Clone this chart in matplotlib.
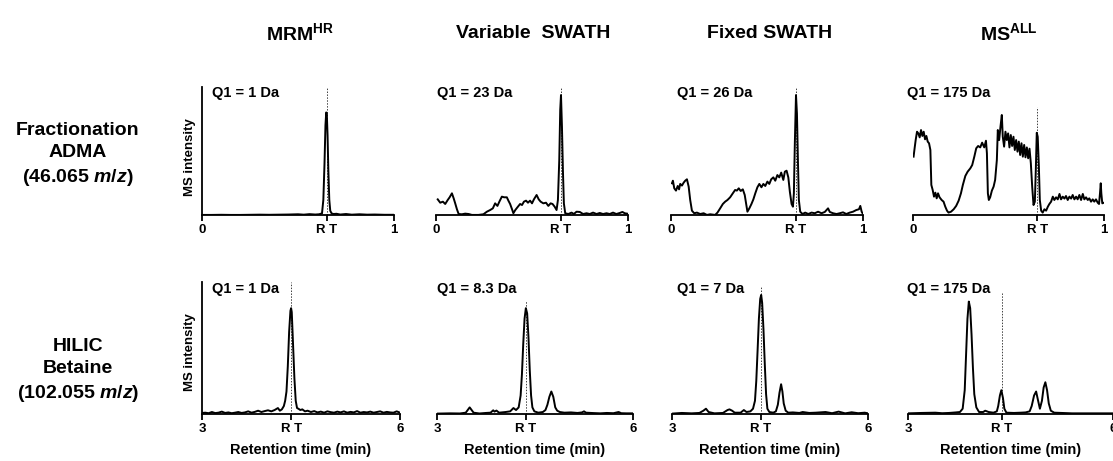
import matplotlib
matplotlib.use("Agg")
import matplotlib.pyplot as plt
import numpy as np

plt.rcParams['font.family'] = ['Liberation Sans', 'DejaVu Sans']
plt.rcParams['font.weight'] = 'bold'
plt.rcParams['mathtext.fontset'] = 'custom'
plt.rcParams['mathtext.rm'] = 'Liberation Sans:bold'
plt.rcParams['mathtext.it'] = 'Liberation Sans:italic:bold'
plt.rcParams['mathtext.bf'] = 'Liberation Sans:bold'

# column / row headers
methods = ["MRM$^{\\rm HR}$", "Variable  SWATH", "Fixed SWATH", "MS$^{\\rm ALL}$"]
samples = ["Fractionation\nADMA\n(46.065 $m/z$)", "HILIC\nBetaine\n(102.055 $m/z$)"]
q1_row1 = ["Q1 = 1 Da", "Q1 = 23 Da", "Q1 = 26 Da", "Q1 = 175 Da"]
q1_row2 = ["Q1 = 1 Da", "Q1 = 8.3 Da", "Q1 = 7 Da", "Q1 = 175 Da"]
rt_row1 = [0.65, 0.65, 0.65, 0.65]
rt_row2 = [4.35, 4.36, 4.36, 4.37]

# ---- ADMA traces (normalised time 0..1, intensity 0..100) ----
adma_mrm_x = [0, 0.05, 0.1, 0.15, 0.2, 0.25, 0.3, 0.35, 0.4, 0.45, 0.5, 0.53, 0.56, 0.59, 0.61,
              0.625, 0.632, 0.638, 0.643, 0.647, 0.650, 0.654, 0.658, 0.663, 0.668, 0.675, 0.685,
              0.70, 0.72, 0.75, 0.78, 0.82, 0.86, 0.9, 0.95, 1.0]
adma_mrm_y = [0.3, 0.3, 0.4, 0.3, 0.3, 0.4, 0.5, 0.4, 0.5, 0.6, 0.8, 0.5, 0.9, 0.6, 0.8,
              1.5, 12, 40, 70, 80, 79, 62, 35, 12, 3.5, 1.5, 1.0,
              1.2, 0.6, 1.0, 0.5, 0.8, 0.5, 0.6, 0.4, 0.4]

adma_var_x = [0.009, 0.022, 0.036, 0.048, 0.061, 0.071, 0.083, 0.092, 0.100, 0.109, 0.118, 0.135,
              0.152, 0.170, 0.187, 0.221, 0.247, 0.265, 0.282, 0.296, 0.308, 0.320, 0.330, 0.343,
              0.355, 0.369, 0.377, 0.386, 0.396, 0.403, 0.413, 0.424, 0.438, 0.448, 0.458, 0.469,
              0.479, 0.490, 0.500, 0.510, 0.524, 0.535, 0.545, 0.559, 0.573, 0.585, 0.597, 0.607,
              0.618, 0.628, 0.635, 0.642, 0.647, 0.651, 0.656, 0.661, 0.666, 0.673, 0.689, 0.706,
              0.718, 0.732, 0.749, 0.766, 0.784, 0.801, 0.818, 0.836, 0.853, 0.870, 0.888, 0.905,
              0.922, 0.939, 0.957, 0.971, 0.983, 0.995]
adma_var_y = [12.4, 9.8, 10.6, 8.8, 11.9, 14.0, 17.1, 13.2, 9.3, 4.7, 1.0, 0.8,
              1.3, 1.0, 0.3, 0.3, 0.8, 2.8, 4.1, 5.4, 9.3, 7.3, 10.6, 14.5,
              14.0, 14.0, 11.4, 8.8, 4.7, 1.6, 4.1, 6.2, 8.8, 8.0, 10.6, 11.4,
              9.8, 11.4, 9.3, 12.4, 15.8, 12.4, 10.6, 9.3, 9.8, 7.3, 9.3, 8.8,
              6.7, 4.1, 11.9, 43, 82, 93.5, 69, 35, 9.3, 1.6, 1.0, 2.1,
              1.0, 2.8, 2.6, 1.0, 1.6, 1.0, 2.1, 1.0, 1.8, 1.0, 1.6, 1.0,
              2.1, 1.0, 1.8, 2.6, 1.6, 1.3]

adma_fix_x = [0.005, 0.010, 0.017, 0.026, 0.035, 0.042, 0.048, 0.057, 0.066, 0.074, 0.083, 0.092,
              0.100, 0.109, 0.121, 0.135, 0.152, 0.170, 0.187, 0.204, 0.230, 0.242, 0.256, 0.270,
              0.282, 0.294, 0.308, 0.322, 0.334, 0.343, 0.353, 0.363, 0.374, 0.384, 0.391, 0.398,
              0.408, 0.419, 0.429, 0.439, 0.450, 0.460, 0.471, 0.481, 0.491, 0.502, 0.512, 0.522,
              0.533, 0.543, 0.554, 0.564, 0.574, 0.585, 0.593, 0.602, 0.611, 0.619, 0.628, 0.635,
              0.640, 0.645, 0.651, 0.656, 0.661, 0.666, 0.673, 0.685, 0.699, 0.715, 0.732, 0.749,
              0.766, 0.784, 0.801, 0.818, 0.827, 0.844, 0.862, 0.879, 0.896, 0.913, 0.931, 0.948,
              0.965, 0.979, 0.986, 0.993, 1.0]
adma_fix_y = [24.9, 26.9, 21.0, 19.2, 22.8, 20.2, 24.4, 23.1, 25.4, 26.9, 28.0, 22.3,
              11.9, 3.6, 1.6, 2.1, 1.0, 1.6, 0.3, 0.8, 0.3, 2.1, 5.4, 8.8,
              10.6, 11.9, 14.0, 17.1, 19.7, 19.2, 21.0, 18.9, 20.2, 15.8, 9.3, 2.8,
              5.4, 8.8, 12.4, 17.1, 21.8, 24.4, 21.8, 24.4, 22.8, 26.2, 24.4, 28.0,
              29.5, 26.9, 31.3, 29.5, 33.2, 27.5, 33.9, 34.7, 29.5, 18.4, 8.8, 6.7,
              17.1, 56, 93.5, 79, 43, 11.9, 2.8, 1.0, 2.1, 1.0, 2.1, 1.6,
              2.8, 1.6, 2.6, 5.4, 2.6, 1.6, 1.0, 1.6, 2.3, 1.0, 2.1, 2.8,
              4.1, 4.7, 7.3, 2.8, 1.0]

adma_all_x = [0.003, 0.009, 0.014, 0.021, 0.028, 0.035, 0.042, 0.049, 0.056, 0.063, 0.070, 0.077,
              0.084, 0.091, 0.096, 0.103, 0.110, 0.117, 0.124, 0.131, 0.139, 0.150, 0.160, 0.169,
              0.178, 0.186, 0.199, 0.213, 0.226, 0.239, 0.251, 0.261, 0.274, 0.286, 0.300, 0.310,
              0.321, 0.331, 0.341, 0.352, 0.362, 0.373, 0.382, 0.387, 0.392, 0.397, 0.404, 0.413,
              0.422, 0.430, 0.439, 0.444, 0.451, 0.458, 0.465, 0.470, 0.477, 0.484, 0.491, 0.498,
              0.505, 0.512, 0.519, 0.526, 0.533, 0.540, 0.547, 0.554, 0.561, 0.568, 0.575, 0.582,
              0.589, 0.596, 0.603, 0.610, 0.617, 0.624, 0.631, 0.638, 0.643, 0.648, 0.653, 0.659,
              0.664, 0.671, 0.679, 0.688, 0.697, 0.706, 0.714, 0.723, 0.732, 0.740, 0.749, 0.758,
              0.767, 0.775, 0.784, 0.793, 0.801, 0.810, 0.819, 0.828, 0.836, 0.845, 0.854, 0.862,
              0.871, 0.880, 0.889, 0.897, 0.906, 0.915, 0.923, 0.932, 0.941, 0.949, 0.958, 0.967,
              0.974, 0.979, 0.983, 0.986, 0.991, 1.0]
adma_all_y = [45.6, 52.8, 58.5, 65.0, 63.7, 60.6, 66.3, 61.7, 65.0, 59.1, 61.7, 57.3,
              56.0, 50.8, 23.6, 19.7, 14.5, 17.6, 13.2, 17.1, 14.0, 11.9, 10.6, 6.7,
              3.6, 2.1, 2.8, 4.7, 7.3, 11.4, 17.1, 23.6, 30.6, 33.9, 36.5, 39.1,
              45.6, 52.1, 53.9, 52.8, 56.5, 52.8, 58.0, 48.2, 17.1, 11.9, 14.0, 19.2,
              22.3, 27.5, 43.0, 66.3, 58.5, 68.9, 78.0, 61.1, 53.4, 65.0, 58.5, 63.7,
              52.8, 62.4, 53.9, 61.1, 50.8, 58.5, 49.5, 57.3, 46.9, 56.0, 45.6, 54.7,
              45.1, 52.8, 44.3, 51.8, 40.4, 22.3, 8.0, 10.6, 35.2, 64.2, 61.1, 37.8,
              11.9, 3.6, 2.1, 4.7, 3.6, 6.7, 8.8, 10.6, 14.5, 11.9, 14.0, 12.4,
              16.6, 12.4, 14.5, 13.0, 15.0, 11.9, 14.5, 13.0, 15.8, 12.4, 14.5, 12.4,
              15.8, 11.9, 16.6, 12.4, 14.0, 11.9, 13.2, 10.6, 12.4, 10.6, 12.4, 9.8,
              8.8, 17.1, 24.9, 17.1, 9.3, 9.8]

# ---- Betaine traces (retention time in min, intensity 0..100) ----
bet_mrm_x = [3.00, 3.05, 3.10, 3.15, 3.20, 3.25, 3.30, 3.35, 3.40, 3.45, 3.50, 3.55, 3.60, 3.65,
             3.70, 3.75, 3.80, 3.85, 3.90, 3.95, 4.00, 4.05, 4.10, 4.15, 4.18, 4.21, 4.24, 4.26,
             4.28, 4.30, 4.32, 4.34, 4.35, 4.36, 4.38, 4.40, 4.42, 4.44, 4.46, 4.49, 4.52, 4.56,
             4.60, 4.65, 4.70, 4.75, 4.80, 4.85, 4.90, 4.95, 5.00, 5.05, 5.10, 5.15, 5.20, 5.25,
             5.30, 5.35, 5.40, 5.45, 5.50, 5.55, 5.60, 5.65, 5.70, 5.75, 5.80, 5.85, 5.90, 5.95, 6.00]
bet_mrm_y = [0.8, 1.0, 0.6, 1.5, 0.7, 1.0, 1.8, 0.8, 1.2, 0.6, 1.0, 1.5, 0.8, 1.2,
             2.0, 1.0, 1.6, 2.5, 1.5, 2.2, 2.8, 2.0, 3.0, 4.5, 2.5, 3.5, 6, 10,
             17, 36, 62, 78, 80, 77, 52, 27, 10, 4.5, 4.0, 3.0, 3.5, 2.0,
             2.5, 1.5, 2.2, 1.2, 1.8, 1.0, 2.0, 1.4, 1.0, 1.8, 1.2, 2.0, 1.0, 1.6,
             1.2, 2.2, 1.0, 1.5, 1.2, 1.8, 1.0, 1.5, 2.0, 1.0, 1.6, 1.2, 1.0, 2.0, 1.0]

bet_var_x = [3.0, 3.2, 3.35, 3.44, 3.50, 3.56, 3.65, 3.75, 3.82, 3.86, 3.88, 3.91, 3.95, 4.05,
             4.12, 4.17, 4.21, 4.25, 4.28, 4.30, 4.32, 4.34, 4.36, 4.38, 4.40, 4.42, 4.44, 4.46,
             4.49, 4.55, 4.62, 4.66, 4.69, 4.72, 4.75, 4.78, 4.81, 4.84, 4.88, 4.95, 5.05, 5.15,
             5.22, 5.25, 5.28, 5.4, 5.5, 5.6, 5.7, 5.78, 5.82, 5.9, 6.0]
bet_var_y = [0.3, 0.5, 0.4, 1.0, 5.0, 1.0, 0.4, 0.8, 1.0, 2.8, 1.8, 2.6, 1.0, 1.5,
             2.0, 4.5, 3.0, 5, 14, 30, 53, 72, 80, 76, 58, 33, 14, 5,
             2, 1.0, 1.5, 3, 7, 13, 17, 13, 5, 2.5, 1.5, 1.0, 1.2, 0.8,
             1.2, 2.0, 1.0, 0.7, 0.5, 0.8, 0.6, 1.5, 0.6, 0.5, 0.5]

bet_fix_x = [3.0, 3.15, 3.3, 3.42, 3.48, 3.52, 3.56, 3.65, 3.78, 3.85, 3.88, 3.92, 3.96, 4.05,
             4.10, 4.14, 4.2, 4.24, 4.27, 4.29, 4.31, 4.33, 4.35, 4.365, 4.38, 4.40, 4.42, 4.44,
             4.46, 4.49, 4.55, 4.59, 4.62, 4.645, 4.67, 4.69, 4.71, 4.74, 4.78, 4.85, 4.95, 5.0,
             5.1, 5.2, 5.35, 5.45, 5.55, 5.65, 5.75, 5.85, 5.95, 6.0]
bet_fix_y = [0.3, 0.8, 0.5, 0.8, 2.5, 4.0, 1.5, 0.5, 0.8, 3.0, 3.5, 2.5, 1.0, 1.0,
             3.0, 1.5, 2.0, 4, 10, 25, 48, 72, 87, 90, 84, 64, 38, 15,
             4, 1.5, 1, 2, 7, 16, 22.5, 17, 8, 2.5, 1.0, 1.2, 0.8, 1.5,
             0.8, 1.0, 1.5, 0.6, 1.8, 0.5, 1.3, 0.6, 1.0, 0.5]

bet_all_x = [3.0, 3.2, 3.4, 3.5, 3.6, 3.7, 3.76, 3.80, 3.83, 3.85, 3.87, 3.89, 3.91, 3.93,
             3.95, 3.97, 4.0, 4.04, 4.1, 4.13, 4.18, 4.25, 4.30, 4.32, 4.345, 4.366, 4.39, 4.41,
             4.44, 4.55, 4.65, 4.72, 4.78, 4.81, 4.845, 4.875, 4.90, 4.93, 4.96, 4.985, 5.01, 5.035,
             5.06, 5.09, 5.14, 5.25, 5.4, 5.6, 5.8, 6.0]
bet_all_y = [0.5, 0.8, 1.0, 0.6, 0.8, 1.2, 1.5, 4, 18, 45, 72, 85, 80, 60,
             35, 15, 5, 1.5, 1.5, 2.5, 1.5, 1.0, 2, 6, 14, 18, 12, 4,
             1.0, 0.8, 1.0, 1.2, 2, 6, 14, 17, 11, 4, 10, 20, 24, 18,
             8, 2.5, 1.0, 0.8, 0.5, 0.5, 0.5, 0.5]

traces = [[(adma_mrm_x, adma_mrm_y), (adma_var_x, adma_var_y), (adma_fix_x, adma_fix_y), (adma_all_x, adma_all_y)],
          [(bet_mrm_x, bet_mrm_y), (bet_var_x, bet_var_y), (bet_fix_x, bet_fix_y), (bet_all_x, bet_all_y)]]

# layout, in pixels of the 1113 x 461 picture
W, H = 1113, 461
row_top = [86.7, 281.7]
row_bot = [215.3, 414.0]
col_lr = [[(202, 394), (436, 628), (671, 863), (913, 1104)],
          [(202, 400), (437, 633), (672, 868), (908, 1113)]]
q1_pos = [[(212, 93), (437, 93), (677, 93), (907, 93)],
          [(212, 289), (437, 289), (677, 289), (907, 289)]]
rt_line_top = [[1.0, 1.0, 1.0, 0.845], [1.0, 0.856, 0.97, 0.917]]
title_x = [300, 533, 770, 1009]
ylab_y = [157, 352]
sample_y = [155, 371]

fig = plt.figure(figsize=(W / 100, H / 100), dpi=100)

for r in range(2):
    rts = rt_row1 if r == 0 else rt_row2
    q1 = q1_row1 if r == 0 else q1_row2
    xlim = (0, 1) if r == 0 else (3, 6)
    for c in range(4):
        l, rr = col_lr[r][c]
        ax = fig.add_axes([l / W, 1 - row_bot[r] / H, (rr - l) / W, (row_bot[r] - row_top[r]) / H])
        x, y = traces[r][c]
        ax.plot(x, y, color='black', lw=1.4, solid_joinstyle='round')
        ax.axvline(rts[c], ymax=rt_line_top[r][c], color='0.25', ls=(0, (1.5, 1.5)), lw=0.7, zorder=0)
        ax.set_xlim(*xlim)
        ax.set_ylim(0, 100)
        ax.set_xticks([xlim[0], rts[c], xlim[1]])
        ax.set_xticklabels([str(xlim[0]), 'R T', str(xlim[1])])
        ax.set_yticks([])
        for s in ['top', 'right']:
            ax.spines[s].set_visible(False)
        ax.spines['left'].set_visible(c == 0)
        ax.spines['bottom'].set_linewidth(1.3)
        ax.spines['left'].set_linewidth(1.3)
        ax.tick_params(axis='x', direction='out', length=4, width=1.3, pad=2.5, labelsize=9.5)
        ax.patch.set_alpha(0)
        if r == 1:
            ax.set_xlabel('Retention time (min)', fontsize=10.5, fontweight='bold', labelpad=6)
        qx, qy = q1_pos[r][c]
        fig.text(qx / W, 1 - qy / H, q1[c], fontsize=10.5, fontweight='bold', ha='left', va='center')

for c in range(4):
    fig.text(title_x[c] / W, 1 - 33 / H, methods[c], fontsize=14, fontweight='bold', ha='center', va='center')

for r in range(2):
    fig.text(190 / W, 1 - ylab_y[r] / H, 'MS intensity', fontsize=9.5, fontweight='bold',
             rotation=90, ha='center', va='center')
    fig.text(78 / W, 1 - sample_y[r] / H, samples[r], fontsize=14, fontweight='bold',
             ha='center', va='center', multialignment='center', linespacing=1.4)

fig.savefig('out.png', dpi=100)
